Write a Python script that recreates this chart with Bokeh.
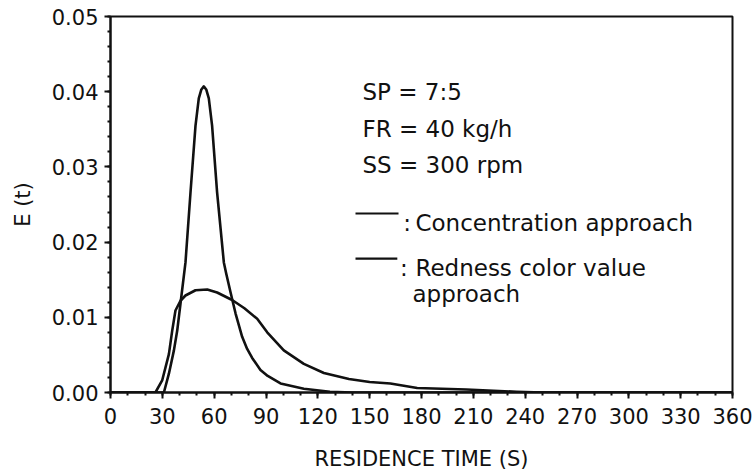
from bokeh.plotting import figure
from bokeh.embed import file_html
from bokeh.resources import INLINE
from bokeh.models import SingleIntervalTicker, PrintfTickFormatter, Range1d
from bokeh.core.properties import value

# Residence time (s) and E(t) values
conc_t = [0, 30.9, 33.8, 36.7, 38.6, 40.5, 43.4, 46.3, 49.2, 51.1, 52.6, 54.0,
          55.4, 56.9, 58.8, 61.7, 65.6, 67.0, 69.5, 72.4, 76.2, 79.1, 82.0,
          86.8, 91.0, 98.4, 111.9, 127.0, 140.0, 360.0]
conc_e = [0, 0, 0.0025, 0.0056, 0.0082, 0.0118, 0.0173, 0.0266, 0.0355, 0.0391,
          0.0403, 0.0407, 0.0403, 0.0391, 0.0355, 0.0266, 0.0173, 0.0158, 0.0133,
          0.0105, 0.0074, 0.0058, 0.0046, 0.0030, 0.0022, 0.0012, 0.0005, 0.0001,
          0.0, 0.0]

red_t = [0, 26.0, 29.9, 33.8, 35.7, 37.6, 40.5, 43.4, 49.2, 56.0, 61.7, 70.4,
         77.5, 84.9, 90.7, 100.3, 111.9, 123.5, 138.0, 150.0, 162.0, 177.5,
         206.0, 235.0, 250.0, 360.0]
red_e = [0, 0, 0.0016, 0.0051, 0.0082, 0.0109, 0.0122, 0.0129, 0.0136, 0.0137,
         0.0133, 0.0123, 0.0112, 0.0098, 0.0080, 0.0056, 0.0038, 0.0026, 0.0018,
         0.0014, 0.0012, 0.0006, 0.0004, 0.0001, 0.0, 0.0]

info_lines = ["SP = 7:5", "FR = 40 kg/h", "SS = 300 rpm"]
legend_labels = ["Concentration approach", "Redness color value", "approach"]

FONT = "DejaVu Sans"
INK = "#111111"

p = figure(width=756, height=474, output_backend="svg", toolbar_location=None,
           x_range=Range1d(0, 360), y_range=Range1d(0, 0.05),
           min_border_left=110, min_border_right=24, min_border_top=16,
           min_border_bottom=82, background_fill_color="white",
           border_fill_color="white")

p.xgrid.visible = False
p.ygrid.visible = False
p.outline_line_color = INK
p.outline_line_width = 2

p.xaxis.ticker = SingleIntervalTicker(interval=30, num_minor_ticks=3)
p.yaxis.ticker = SingleIntervalTicker(interval=0.01, num_minor_ticks=5)
p.yaxis.formatter = PrintfTickFormatter(format="%.2f")

for ax in (p.xaxis, p.yaxis):
    ax.axis_line_color = INK
    ax.axis_line_width = 2
    ax.major_tick_line_color = INK
    ax.major_tick_line_width = 2
    ax.minor_tick_line_color = INK
    ax.minor_tick_line_width = 2
    ax.major_tick_out = 6
    ax.major_tick_in = 0
    ax.minor_tick_out = 3
    ax.minor_tick_in = 0
    ax.major_label_text_font = FONT
    ax.major_label_text_font_size = "21px"
    ax.major_label_text_color = INK
    ax.axis_label_text_font = FONT
    ax.axis_label_text_font_size = "21px"
    ax.axis_label_text_font_style = "normal"
    ax.axis_label_text_color = INK

p.xaxis.axis_label = "RESIDENCE TIME (S)"
p.yaxis.axis_label = "E (t)"
p.xaxis.major_label_standoff = 9
p.yaxis.major_label_standoff = 6
p.xaxis.axis_label_standoff = 20
p.yaxis.axis_label_standoff = 14

p.line(conc_t, conc_e, line_color=INK, line_width=2.6, line_join="round")
p.line(red_t, red_e, line_color=INK, line_width=2.6, line_join="round")

# Annotation block
p.text(x=[145.8] * 3, y=[0.0399, 0.0351, 0.0302], text=info_lines,
       text_font=value(FONT), text_font_size="23px", text_color=INK,
       text_baseline="alphabetic", text_align="left")

p.segment(x0=[141.8, 141.8], y0=[0.0238, 0.0178], x1=[166.7, 166.0],
          y1=[0.0238, 0.0178], line_color=INK, line_width=2.2)
p.text(x=[169.5, 167.5], y=[0.0225, 0.0166], text=[":", ":"],
       text_font=value(FONT), text_font_size="23px", text_color=INK,
       text_baseline="alphabetic", text_align="left")
p.text(x=[176.5, 176.5, 174.8], y=[0.0225, 0.0166, 0.0131], text=legend_labels,
       text_font=value(FONT), text_font_size="23px", text_color=INK,
       text_baseline="alphabetic", text_align="left")

open("out.html", "w").write(file_html(p, INLINE))
